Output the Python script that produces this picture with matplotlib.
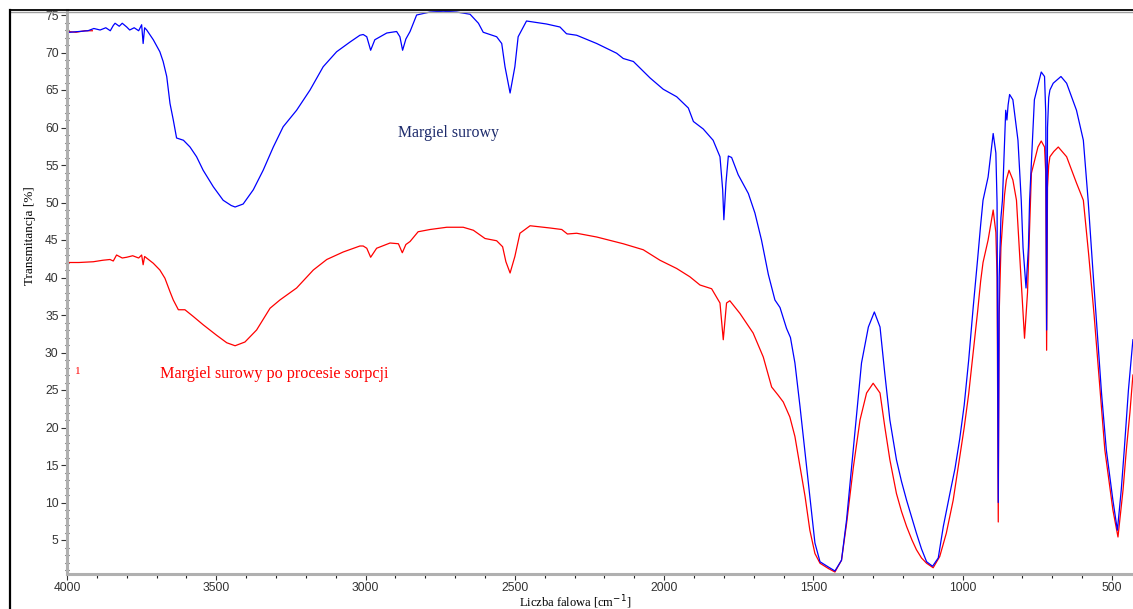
import matplotlib
matplotlib.use("Agg")
import matplotlib.pyplot as plt
from matplotlib.lines import Line2D
from matplotlib.ticker import MultipleLocator

# widmo FTIR - margiel surowy (niebieski)
blue_wn = [4000, 3990, 3960, 3930, 3910, 3889, 3870, 3855, 3845, 3839, 3825, 3815, 3800, 3790,
           3775, 3760, 3750, 3745, 3740, 3733, 3711, 3689, 3678, 3666, 3655, 3644, 3633, 3610,
           3588, 3566, 3544, 3510, 3477, 3450, 3437, 3410, 3376, 3343, 3309, 3276, 3231, 3186,
           3142, 3097, 3052, 3019, 3008, 2996, 2983, 2969, 2929, 2896, 2885, 2876, 2865, 2851,
           2829, 2784, 2740, 2695, 2650, 2622, 2606, 2561, 2544, 2533, 2516, 2500, 2489, 2461,
           2394, 2349, 2327, 2293, 2226, 2159, 2137, 2103, 2047, 2003, 1958, 1919, 1902, 1869,
           1836, 1813, 1804, 1800, 1793, 1785, 1774, 1752, 1718, 1696, 1674, 1651, 1629, 1612,
           1590, 1577, 1562, 1545, 1528, 1512, 1495, 1478, 1450, 1428, 1406, 1389, 1372, 1355,
           1339, 1316, 1296, 1277, 1261, 1244, 1222, 1205, 1188, 1170, 1155, 1138, 1121, 1101,
           1082, 1065, 1043, 1026, 1010, 995, 980, 965, 950, 940, 932, 915, 898, 889, 885, 881,
           878, 872, 867, 860, 856, 852, 848, 843, 832, 815, 804, 798, 788, 780, 776, 760, 737,
           726, 722, 719, 716, 712, 708, 697, 671, 652, 619, 596, 580, 565, 550, 535, 519, 497,
           482, 469, 459, 445, 430]
blue_t = [72.7, 72.7, 72.8, 72.9, 73.2, 73.0, 73.3, 72.9, 73.6, 73.9, 73.5, 73.9, 73.4, 73.0,
          73.3, 72.9, 73.7, 71.2, 73.3, 73.0, 71.7, 70.1, 68.8, 66.8, 63.2, 61.0, 58.6, 58.3,
          57.4, 56.1, 54.3, 52.1, 50.3, 49.6, 49.4, 49.8, 51.7, 54.3, 57.4, 60.1, 62.3, 65.0,
          68.1, 70.1, 71.4, 72.3, 72.4, 72.1, 70.3, 71.7, 72.6, 72.8, 72.1, 70.3, 71.8, 72.8,
          75.0, 75.4, 75.5, 75.4, 75.1, 73.9, 72.7, 72.1, 71.2, 68.1, 64.6, 68.1, 72.1, 74.2,
          73.8, 73.4, 72.5, 72.3, 71.2, 69.9, 69.2, 68.8, 66.6, 65.1, 64.1, 62.6, 60.8, 59.8,
          58.3, 56.1, 51.7, 47.7, 52.6, 56.2, 56.0, 53.7, 51.2, 48.6, 45.0, 40.4, 37.0, 36.0,
          33.2, 32.0, 28.6, 22.8, 16.6, 10.8, 4.6, 2.1, 1.4, 0.87, 2.3, 7.7, 14.8, 21.9,
          28.6, 33.4, 35.4, 33.4, 27.2, 21.0, 15.7, 12.8, 10.3, 7.9, 5.9, 3.8, 2.1, 1.5,
          2.6, 6.8, 11.2, 14.5, 18.5, 23.0, 29.0, 36.0, 42.5, 47.0, 50.3, 53.4, 59.2, 56.6, 50.0, 10.0,
          40.0, 48.0, 50.3, 58.0, 62.3, 61.0, 63.0, 64.4, 63.7, 58.3, 50.3, 44.0, 38.6, 44.0, 50.3, 63.7, 67.4,
          66.8, 62.0, 33.0, 60.0, 64.0, 65.0, 65.9, 66.8, 65.9, 62.3, 58.3, 50.3, 41.5, 33.0, 24.5, 17.0, 10.3,
          6.3, 11.7, 17.0, 25.0, 31.7]

# margiel po procesie sorpcji (czerwony)
red_wn = [4000, 3960, 3912, 3880, 3856, 3845, 3834, 3815, 3800, 3780, 3760, 3750, 3745, 3740,
          3711, 3689, 3672, 3655, 3644, 3627, 3605, 3577, 3544, 3499, 3465, 3437, 3404, 3365,
          3320, 3287, 3231, 3175, 3130, 3075, 3019, 3008, 2996, 2983, 2963, 2918, 2890, 2877,
          2865, 2851, 2824, 2784, 2728, 2673, 2639, 2600, 2561, 2541, 2530, 2516, 2500, 2483,
          2449, 2382, 2343, 2324, 2293, 2226, 2137, 2070, 2014, 1958, 1914, 1880, 1841, 1813,
          1802, 1791, 1780, 1746, 1702, 1668, 1640, 1618, 1601, 1579, 1562, 1545, 1528, 1512,
          1495, 1478, 1450, 1428, 1406, 1389, 1366, 1344, 1322, 1300, 1277, 1261, 1244, 1222,
          1205, 1188, 1170, 1155, 1138, 1121, 1099, 1077, 1055, 1032, 1010, 995, 980, 965, 950,
          940, 932, 915, 898, 889, 885, 881, 878, 872, 867, 860, 854, 845, 832, 820, 805, 793,
          783, 770, 748, 737, 726, 722, 719, 716, 712, 708, 695, 680, 652, 619, 596, 578, 560,
          542, 524, 497, 480, 463, 452, 440, 430]
red_t = [42.0, 42.0, 42.1, 42.3, 42.4, 42.2, 43.0, 42.6, 42.7, 42.9, 42.6, 43.0, 41.7, 42.8,
         41.9, 41.0, 39.9, 38.1, 37.0, 35.7, 35.7, 34.8, 33.7, 32.3, 31.3, 30.9, 31.4, 33.0,
         35.9, 37.0, 38.6, 41.0, 42.4, 43.4, 44.2, 44.2, 43.9, 42.7, 43.9, 44.6, 44.5, 43.3,
         44.4, 44.8, 46.1, 46.4, 46.7, 46.7, 46.3, 45.2, 44.9, 44.1, 42.1, 40.6, 42.8, 45.9,
         46.9, 46.6, 46.4, 45.8, 45.9, 45.4, 44.5, 43.7, 42.3, 41.2, 40.1, 39.0, 38.5, 36.6,
         31.7, 36.6, 36.9, 35.2, 32.6, 29.4, 25.4, 24.3, 23.4, 21.4, 18.8, 14.8, 10.8, 6.3,
         3.2, 1.9, 1.2, 0.73, 2.3, 7.2, 14.8, 21.0, 24.6, 25.9, 24.6, 20.1, 15.7, 11.2,
         8.8, 6.8, 5.0, 3.7, 2.6, 1.9, 1.3, 2.8, 5.9, 10.3, 16.1, 20.0, 24.5, 30.0, 35.5,
         39.5, 42.0, 45.0, 49.0, 46.0, 40.0, 7.4, 35.0, 44.0, 47.0, 51.0, 53.0, 54.3, 53.0, 50.3, 40.0, 31.9,
         38.0, 53.9, 57.4, 58.2, 57.4, 54.0, 30.3, 52.0, 55.0, 56.1, 56.8, 57.4, 56.1, 52.6, 50.3, 43.0, 35.0,
         26.0, 17.0, 9.0, 5.4, 11.7, 17.0, 22.0, 27.0]

# krotki czerwony fragment pod niebieska linia na poczatku widma
red_top_wn = [4000, 3970, 3940, 3915]
red_top_t = [72.8, 72.7, 72.9, 72.9]

xticks = [4000, 3500, 3000, 2500, 2000, 1500, 1000, 500]
yticks = [5, 10, 15, 20, 25, 30, 35, 40, 45, 50, 55, 60, 65, 70, 75]

W, H = 1133, 609
fig = plt.figure(figsize=(W / 100, H / 100), dpi=100)
ax = fig.add_axes([67 / W, 35 / H, 1 - 67 / W, (574 - 10) / H])

ax.plot(red_top_wn, red_top_t, color='#ff0000', lw=0.9)
ax.plot(red_wn, red_t, color='#ff0000', lw=0.9)
ax.plot(blue_wn, blue_t, color='#0000ff', lw=0.9)

ax.set_xlim(4000, 429.7)
ax.set_ylim(75 - (574 - 15) / 7.5, 75 + 5 / 7.5)

ax.set_xticks(xticks)
ax.set_yticks(yticks)
ax.xaxis.set_minor_locator(MultipleLocator(100))
ax.yaxis.set_minor_locator(MultipleLocator(1))

for s in ['top', 'right']:
    ax.spines[s].set_visible(False)
for s in ['left', 'bottom']:
    ax.spines[s].set_color('#b0b0b0')
    ax.spines[s].set_linewidth(2.2)

ax.tick_params(axis='both', which='major', direction='out', length=4, width=0.8,
               color='#333333', labelcolor='#333333', labelsize=8.7, pad=2)
ax.tick_params(axis='y', which='minor', direction='inout', length=3, width=0.8, color='#222222')
ax.tick_params(axis='x', which='minor', direction='out', length=3, width=0.8, color='#222222')
for lab in ax.get_xticklabels() + ax.get_yticklabels():
    lab.set_fontfamily('Liberation Sans')

serif = 'Liberation Serif'
fig.text(449 / W, 1 - 133 / H, 'Margiel surowy', color='#1c2a6b', fontsize=11.4,
         family=serif, ha='center', va='center')
fig.text(160 / W, 1 - 374 / H, 'Margiel surowy po procesie sorpcji', color='#ff0000',
         fontsize=11.6, family=serif, ha='left', va='center')
fig.text(78 / W, 1 - 372 / H, '1', color='#ff0000', fontsize=8, family=serif,
         ha='center', va='center')
fig.text(30 / W, 1 - 236 / H, 'Transmitancja [%]', rotation=90, fontsize=9.5,
         family=serif, ha='center', va='center')
fig.text(575 / W, 1 - 602 / H, 'Liczba falowa [cm$^{-1}$]', fontsize=9,
         family=serif, ha='center', va='center')

# ramka rysunku
fy = 1 - 10 / H
fx = 10 / W
fig.add_artist(Line2D([fx, 1], [fy, fy], transform=fig.transFigure, color='black', lw=1.3))
fig.add_artist(Line2D([fx + 1 / W, 1], [fy - 2 / H, fy - 2 / H], transform=fig.transFigure,
                      color='#a0a0a0', lw=1.0))
fig.add_artist(Line2D([fx, fx], [0, fy], transform=fig.transFigure, color='black', lw=1.6))

fig.savefig('out.png', dpi=100)
